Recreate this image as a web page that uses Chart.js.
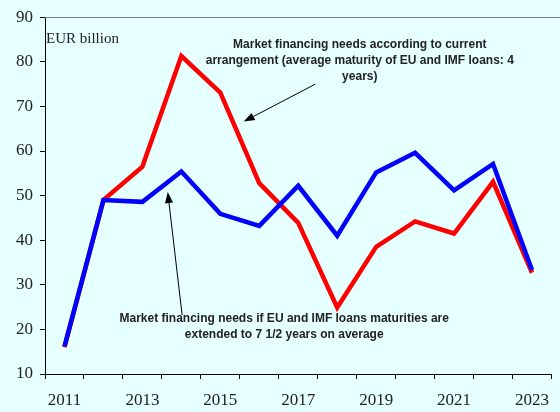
<!DOCTYPE html>
<html>
<head>
<meta charset="utf-8">
<script src="https://cdn.jsdelivr.net/npm/chart.js@4"></script>
<style>
  html, body { margin: 0; padding: 0; background: #e6ffff; }
  #chart { display: block; }
</style>
</head>
<body>
<canvas id="chart" width="560" height="412"></canvas>
<script>
const years = ["2011", "2012", "2013", "2014", "2015", "2016", "2017", "2018", "2019", "2020", "2021", "2022", "2023"];
const currentArrangement = [16, 49, 56.5, 81.3, 73.1, 52.8, 43.9, 24.9, 38.5, 44.2, 41.5, 53.1, 32.7];
const extendedMaturities = [16.2, 49, 48.6, 55.4, 45.9, 43.2, 52.2, 41.0, 55.2, 59.6, 51.2, 57.1, 33.3];
const yTicks = [10, 20, 30, 40, 50, 60, 70, 80, 90];

const unitLabel = "EUR billion";
const note1 = ["Market financing needs according to current", "arrangement (average maturity of EU and IMF loans: 4", "years)"];
const note2 = ["Market financing needs if EU and IMF loans maturities are", "extended to 7 1/2 years on average"];

// annotation anchors in (category index, value)
const notes = [
    { lines: note1, at: [7.58, 83.8], from: [6.44, 75.0], to: [4.6, 66.6] },
    { lines: note2, at: [5.64, 22.3], from: [3.02, 23.2], to: [2.65, 50.8] }
];

function drawArrow(ctx, x1, y1, x2, y2) {
    const ang = Math.atan2(y2 - y1, x2 - x1);
    const len = 11, half = 4;
    const bx = x2 - len * Math.cos(ang), by = y2 - len * Math.sin(ang);
    ctx.beginPath();
    ctx.moveTo(x1, y1);
    ctx.lineTo(bx, by);
    ctx.stroke();
    ctx.beginPath();
    ctx.moveTo(x2, y2);
    ctx.lineTo(bx + half * Math.sin(ang), by - half * Math.cos(ang));
    ctx.lineTo(bx - half * Math.sin(ang), by + half * Math.cos(ang));
    ctx.closePath();
    ctx.fill();
}

const extras = {
    id: "extras",
    beforeDraw(chart) {
        const ctx = chart.ctx;
        ctx.save();
        ctx.fillStyle = "#e6ffff";
        ctx.fillRect(0, 0, chart.width, chart.height);
        ctx.restore();
    },
    afterDraw(chart) {
        const ctx = chart.ctx;
        const x = chart.scales.x, y = chart.scales.y;
        const area = chart.chartArea;
        ctx.save();
        // top border
        ctx.strokeStyle = "#808080";
        ctx.lineWidth = 1;
        ctx.beginPath();
        ctx.moveTo(area.left, Math.round(area.top) + 0.5);
        ctx.lineTo(chart.width, Math.round(area.top) + 0.5);
        ctx.stroke();

        ctx.fillStyle = "#222";
        ctx.font = "15px 'Liberation Serif'";
        ctx.textAlign = "left";
        ctx.textBaseline = "alphabetic";
        ctx.fillText(unitLabel, area.left + 1, 43);

        ctx.font = "bold 12px 'Liberation Sans'";
        ctx.textAlign = "center";
        ctx.textBaseline = "middle";
        notes.forEach(n => {
            const cx = x.getPixelForValue(n.at[0]);
            const cy = y.getPixelForValue(n.at[1]);
            n.lines.forEach((t, i) => ctx.fillText(t, cx, cy + i * 16));
        });

        ctx.strokeStyle = "#000";
        ctx.fillStyle = "#000";
        ctx.lineWidth = 1;
        notes.forEach(n => {
            drawArrow(ctx,
                x.getPixelForValue(n.from[0]), y.getPixelForValue(n.from[1]),
                x.getPixelForValue(n.to[0]), y.getPixelForValue(n.to[1]));
        });
        ctx.restore();
    }
};

new Chart(document.getElementById("chart").getContext("2d"), {
    type: "line",
    data: {
        labels: years,
        datasets: [{
            label: "Extended maturities",
            data: extendedMaturities,
            borderColor: "#0000ff",
            borderWidth: 4.5,
            pointRadius: 0,
            tension: 0,
            order: 1
        }, {
            label: "Current arrangement",
            data: currentArrangement,
            borderColor: "#ff0000",
            borderWidth: 4.5,
            pointRadius: 0,
            tension: 0,
            order: 2
        }]
    },
    options: {
        responsive: false,
        animation: false,
        layout: { padding: { top: 17, right: 0, left: 0, bottom: 0 } },
        plugins: { legend: { display: false }, tooltip: { enabled: false } },
        scales: {
            x: {
                offset: true,
                afterFit: s => { s.height = 38; },
                grid: { offset: true, drawOnChartArea: false, drawTicks: true, tickLength: 5, color: "#000" },
                border: { display: true, color: "#000", width: 1 },
                ticks: {
                    autoSkip: false,
                    maxRotation: 0,
                    padding: 11,
                    color: "#222",
                    font: { family: "'Liberation Serif'", size: 17 },
                    callback: (v, i) => (i % 2 === 0 ? years[i] : "")
                }
            },
            y: {
                min: yTicks[0],
                max: yTicks[yTicks.length - 1],
                afterFit: s => { s.width = 45; },
                afterBuildTicks: s => { s.ticks = yTicks.map(v => ({ value: v })); },
                grid: { drawOnChartArea: false, drawTicks: true, tickLength: 5, color: "#000" },
                border: { display: true, color: "#000", width: 1 },
                ticks: {
                    padding: 7,
                    color: "#222",
                    font: { family: "'Liberation Serif'", size: 17 }
                }
            }
        }
    },
    plugins: [extras]
});
</script>
</body>
</html>
